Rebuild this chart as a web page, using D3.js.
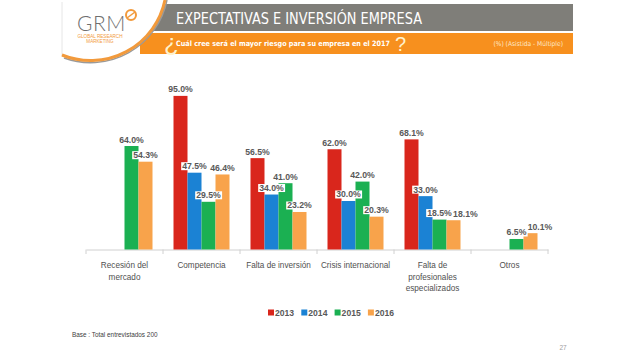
<!DOCTYPE html>
<html><head><meta charset="utf-8">
<script src="https://cdn.jsdelivr.net/npm/d3@7"></script>
<style>html,body{margin:0;padding:0;background:#fff;}svg{display:block;}</style>
</head><body>
<svg id="c" width="640" height="357"></svg>
<script>
const categories = [["Recesión del","mercado"],["Competencia"],["Falta de inversión"],["Crisis internacional"],["Falta de","profesionales","especializados"],["Otros"]];
const years = ["2013","2014","2015","2016"];
const v2013 = [null, 95.0, 56.5, 62.0, 68.1, null];
const v2014 = [null, 47.5, 34.0, 30.0, 33.0, null];
const v2015 = [64.0, 29.5, 41.0, 42.0, 18.5, 6.5];
const v2016 = [54.3, 46.4, 23.2, 20.3, 18.1, 10.1];
const colors = ["#d9261c","#1b82d4","#1bb052","#f8a34b"];
const title = "EXPECTATIVAS E INVERSIÓN EMPRESA";
const question = "Cuál cree será el mayor riesgo para su empresa en el 2017";
const note = "(%) (Asistida - Múltiple)";
const base = "Base : Total entrevistados 200";
const page = "27";

const series = [v2013, v2014, v2015, v2016];
const svg = d3.select("#c");
const F = "'Liberation Sans', Arial, sans-serif";
const FC = "'DejaVu Sans Condensed','Liberation Sans Narrow',sans-serif";

// ---- header ----
svg.append("rect").attr("x",150).attr("y",4).attr("width",423).attr("height",27).attr("fill","#7f7e79");
svg.append("rect").attr("x",140).attr("y",33).attr("width",433).attr("height",21).attr("fill","#f7901e");
svg.append("path").attr("d","M62,0 L165,0 A76,76 0 0 1 62,56 Z").attr("fill","#fff");
svg.append("path").attr("d","M62,2 L62,56").attr("stroke","#e6e6e6").attr("stroke-width",1);
svg.append("path").attr("d","M167,0 A78,78 0 0 1 64,58").attr("fill","none").attr("stroke","#9a9a9a").attr("stroke-width",1.5);
svg.append("path").attr("d","M165,0 A76,76 0 0 1 62,55").attr("fill","none").attr("stroke","#f29a3c").attr("stroke-width",3);
svg.append("text").attr("x",77).attr("y",31).attr("font-family","'Lato', sans-serif").attr("font-weight",300)
  .attr("font-size",21).attr("letter-spacing",0.5).attr("fill","#6f6f6f").text("GRM");
svg.append("circle").attr("cx",131).attr("cy",15).attr("r",5).attr("fill","none").attr("stroke","#f29a3c").attr("stroke-width",2);
svg.append("path").attr("d","M127,18 L135,12").attr("stroke","#f29a3c").attr("stroke-width",1.5);
svg.append("text").attr("x",100).attr("y",38).attr("text-anchor","middle").attr("font-family",F)
  .attr("font-size",4.6).attr("fill","#f29a3c").text("GLOBAL RESEARCH");
svg.append("text").attr("x",100).attr("y",43).attr("text-anchor","middle").attr("font-family",F)
  .attr("font-size",4.6).attr("fill","#f29a3c").text("MARKETING");

svg.append("text").attr("x",176).attr("y",24).attr("font-family",FC)
  .attr("font-size",15).attr("fill","#fff").attr("textLength",246).attr("lengthAdjust","spacingAndGlyphs").text(title);
svg.append("text").attr("x",164).attr("y",51).attr("font-family",F).attr("font-size",24)
  .attr("fill","#fff2cc").text("¿");
svg.append("text").attr("x",176).attr("y",46).attr("font-family",FC).attr("font-weight","bold")
  .attr("font-size",7.3).attr("fill","#fff").attr("textLength",214).attr("lengthAdjust","spacingAndGlyphs").text(question);
svg.append("text").attr("x",395).attr("y",51).attr("font-family",F).attr("font-size",20)
  .attr("fill","#fff2cc").text("?");
svg.append("text").attr("x",563).attr("y",46).attr("text-anchor","end").attr("font-family",FC)
  .attr("font-size",6.6).attr("fill","#fde7c8").text(note);

// ---- chart ----
const x0 = d3.scaleBand().domain(d3.range(categories.length)).range([86,548]).padding(0);
const x1 = d3.scaleBand().domain(years).range([10.5, x0.bandwidth()-10.5]).padding(0);
const y = d3.scaleLinear().domain([0,100]).range([249.5, 87.8]);

const axis = d3.axisBottom(x0).tickSize(0).tickFormat("");
const ax = svg.append("g").attr("transform","translate(0,249.5)").call(axis);
ax.select(".domain").attr("stroke","#d0d0d0");
const bounds = d3.range(categories.length+1).map(i => i<categories.length ? x0(i) : x0(i-1)+x0.bandwidth());
svg.append("g").selectAll("line").data(bounds).join("line")
  .attr("x1",d=>d).attr("x2",d=>d).attr("y1",249.5).attr("y2",254).attr("stroke","#d0d0d0");

const bars = [];
series.forEach((s,si)=>s.forEach((v,ci)=>{ if(v!=null) bars.push({si,ci,v}); }));
svg.append("g").selectAll("rect").data(bars).join("rect")
  .attr("x",d=>x0(d.ci)+x1(years[d.si]))
  .attr("y",d=>y(d.v))
  .attr("width",x1.bandwidth())
  .attr("height",d=>y(0)-y(d.v))
  .attr("fill",d=>colors[d.si]);

// data labels, nudged right when they collide with the previous label of the same group
const lg = svg.append("g");
let prev = null;
bars.slice().sort((a,b)=>a.ci-b.ci||a.si-b.si).forEach(d=>{
  const cx = x0(d.ci)+x1(years[d.si])+x1.bandwidth()/2;
  const t = lg.append("text").attr("x",cx).attr("y",y(d.v)-3.5).attr("text-anchor","middle")
    .attr("font-family",F).attr("font-weight","bold").attr("font-size",8.7).attr("fill","#595959")
    .text(d.v.toFixed(1)+"%");
  let bb = t.node().getBBox();
  if (prev && prev.ci===d.ci) {
    const p = prev.bb;
    const ov = p.x + p.width - bb.x;
    const vov = Math.min(p.y+p.height, bb.y+bb.height) - Math.max(p.y, bb.y);
    if (ov > 0 && vov > 2) { t.attr("x", cx + ov + 1); bb = t.node().getBBox(); }
  }
  lg.insert("rect", () => t.node()).attr("x",bb.x-1).attr("y",bb.y+1).attr("width",bb.width+2).attr("height",bb.height-2).attr("fill","#fff");
  prev = {ci:d.ci, bb};
});

svg.append("g").selectAll("text").data(categories).join("text")
  .attr("text-anchor","middle").attr("font-family",F).attr("font-size",8.2).attr("fill","#505050")
  .attr("transform",(d,i)=>`translate(${x0(i)+x0.bandwidth()/2},268)`)
  .each(function(d){
    d3.select(this).selectAll("tspan").data(d).join("tspan").attr("x",0).attr("dy",(t,j)=>j?11.5:0).text(t=>t);
  });

// legend
const leg = svg.append("g").selectAll("g").data(years).join("g")
  .attr("transform",(d,i)=>`translate(${268+i*33.3},313)`);
leg.append("rect").attr("x",0).attr("y",-3.5).attr("width",6).attr("height",6).attr("fill",(d,i)=>colors[i]);
leg.append("text").attr("x",7).attr("y",3.3).attr("font-family",F).attr("font-weight","bold").attr("font-size",8.6)
  .attr("fill","#595959").text(d=>d);

svg.append("text").attr("x",72).attr("y",337).attr("font-family",F).attr("font-size",6.4).attr("fill","#404040").text(base);
svg.append("text").attr("x",563).attr("y",350).attr("text-anchor","middle").attr("font-family",F).attr("font-size",6.5).attr("fill","#a0a0a0").text(page);
</script>
</body></html>
